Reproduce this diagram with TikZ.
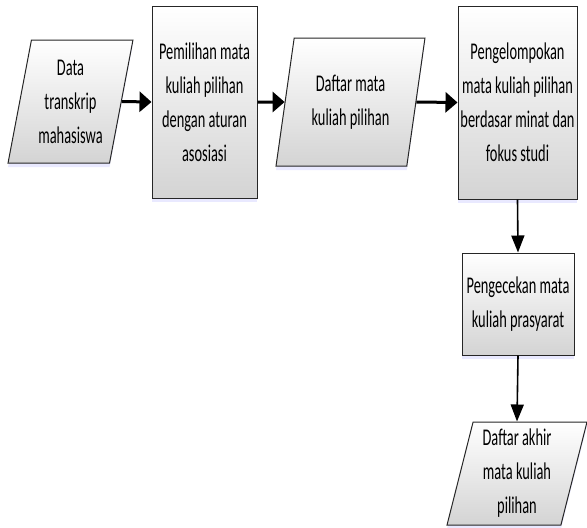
\documentclass[tikz,border=0pt]{standalone}
\usepackage{fontspec}
\newfontfamily\calib[FakeStretch=0.6]{Carlito}
\usetikzlibrary{shapes.geometric,arrows.meta,shadows}

\tikzset{
    base/.style={draw=black!85, line width=1pt, top color=white, bottom color=black!17,
        drop shadow={shadow xshift=0pt, shadow yshift=-4pt, fill=blue!35, opacity=0.25},
        align=center, font=\calib\fontsize{24}{34}\selectfont, inner sep=0pt},
    proses/.style={base, rectangle},
    dataio/.style={base, trapezium, trapezium left angle=77, trapezium right angle=103,
        trapezium stretches=true},
    panah/.style={line width=3pt, -{Triangle[length=12pt,width=20pt]}},
    panahv/.style={line width=1.6pt, -{Triangle[length=17pt,width=13pt]}}
}

\begin{document}
\begin{tikzpicture}[x=1pt,y=-1pt]
        \useasboundingbox (0,0) rectangle (587,528);
        \node[dataio, minimum width=125pt, minimum height=123pt] (transkrip) at (70.5,101.5) {Data\\transkrip\\mahasiswa};
        \node[proses, minimum width=105pt, minimum height=192pt] (pemilihan) at (204.5,102) {Pemilihan mata\\kuliah pilihan\\dengan aturan\\asosiasi};
        \node[dataio, minimum width=149pt, minimum height=128pt] (daftar) at (350.5,102) {Daftar mata\\kuliah pilihan};
        \node[proses, minimum width=119pt, minimum height=193pt] (kelompok) at (517.5,102.5) {Pengelompokan\\mata kuliah pilihan\\berdasar minat dan\\fokus studi};
        \node[proses, minimum width=112pt, minimum height=102pt] (prasyarat) at (518,304) {Pengecekan mata\\kuliah prasyarat};
        \node[dataio, minimum width=140pt, minimum height=103pt] (akhir) at (517,473.5) {Daftar akhir\\mata kuliah\\pilihan};

        \draw[panah] (transkrip.east) -- (pemilihan.west);
        \draw[panah] (pemilihan.east) -- (daftar.west);
        \draw[panah] (daftar.east) -- (kelompok.west);
        \draw[panahv] (kelompok.south) -- (prasyarat.north);
        \draw[panahv] (prasyarat.south) -- (akhir.north);
    \end{tikzpicture}
\end{document}
